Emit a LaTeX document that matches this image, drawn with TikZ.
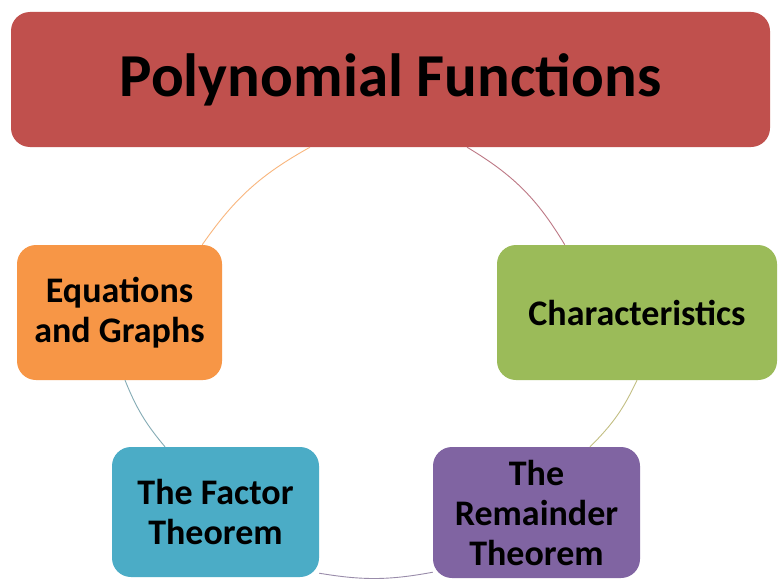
\documentclass[tikz,border=0pt]{standalone}
\usepackage{fontspec}
\setmainfont{Carlito}
\definecolor{cred}{HTML}{C0504D}
\definecolor{cgreen}{HTML}{9BBB59}
\definecolor{cpurple}{HTML}{8064A2}
\definecolor{cteal}{HTML}{4BACC6}
\definecolor{corange}{HTML}{F79646}
\tikzset{
  box/.style={rectangle, rounded corners=19pt, draw=none, text=black,
    font=\bfseries\fontsize{36}{40}\selectfont, align=center, inner sep=0pt},
  link/.style={line width=0.9pt}
}
\begin{document}
\begin{tikzpicture}[x=1pt,y=-1pt]
\useasboundingbox (0,0) rectangle (778,578);
\fill[white] (0,0) rectangle (778,578);
\node[box, fill=cred, minimum width=759pt, minimum height=135pt,
  font=\bfseries\fontsize{61}{70}\selectfont] (title) at (390.5,79.5) {Polynomial Functions};
\node[box, fill=cgreen, minimum width=280pt, minimum height=135pt] (char) at (637,312.5) {Characteristics};
\node[box, fill=cpurple, minimum width=207pt, minimum height=131pt] (rem) at (536.5,512.5) {The\\Remainder\\Theorem};
\node[box, fill=cteal, minimum width=207pt, minimum height=130pt] (fact) at (215.5,512) {The Factor\\Theorem};
\node[box, fill=corange, minimum width=205pt, minimum height=135pt] (eq) at (119.5,312.5) {Equations\\and Graphs};
\draw[link, cred!70!cpurple!80] ([xshift=76.5pt]title.south) to[bend left=14] ([xshift=68pt]char.north west);
\draw[link, cgreen!60!brown!70] (char.south) to[bend left=10] ([xshift=53.5pt]rem.north);
\draw[link, cpurple!60!gray!80] ([yshift=6pt]rem.south west) to[bend left=10] ([yshift=4pt]fact.south east);
\draw[link, cteal!50!gray!80] ([xshift=-50.5pt]fact.north) to[bend left=9] ([xshift=5.5pt]eq.south);
\draw[link, corange!70] ([xshift=-20pt]eq.north east) to[bend left=13] ([xshift=-80.5pt]title.south);
\end{tikzpicture}
\end{document}
